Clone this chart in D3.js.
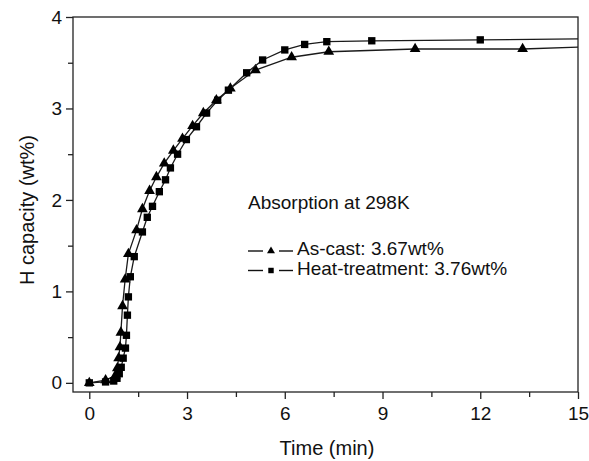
<!DOCTYPE html>
<html>
<head>
<meta charset="utf-8">
<script src="https://cdn.jsdelivr.net/npm/d3@7"></script>
<style>
  body { margin: 0; background: #fff; }
  svg text { font-family: "Liberation Sans", Arial, sans-serif; fill: #111; }
</style>
</head>
<body>
<svg id="chart" width="589" height="461"></svg>
<script>
// As-cast sample (triangles)
const asCastTime = [0, 0.5, 0.8, 0.86, 0.9, 0.94, 0.97, 1.02, 1.1, 1.2, 1.45, 1.63, 1.85, 2.06, 2.3, 2.58, 2.86, 3.17, 3.5, 3.9, 4.33, 5.1, 6.21, 7.35, 10.0, 13.3, 15];
const asCastH    = [0, 0.03, 0.08, 0.16, 0.27, 0.39, 0.55, 0.84, 1.13, 1.41, 1.67, 1.9, 2.1, 2.25, 2.4, 2.54, 2.67, 2.81, 2.95, 3.09, 3.22, 3.42, 3.56, 3.62, 3.65, 3.65, 3.67];

// Heat-treated sample (squares)
const heatTime = [0, 0.5, 0.75, 0.85, 0.92, 0.98, 1.04, 1.11, 1.14, 1.17, 1.2, 1.26, 1.38, 1.63, 1.78, 1.94, 2.15, 2.34, 2.49, 2.71, 2.98, 3.29, 3.6, 3.94, 4.27, 4.83, 5.32, 6.0, 6.61, 7.29, 8.67, 12.0, 15];
const heatH    = [0, 0.01, 0.02, 0.05, 0.1, 0.17, 0.27, 0.38, 0.52, 0.74, 0.94, 1.16, 1.38, 1.65, 1.81, 1.93, 2.09, 2.22, 2.35, 2.5, 2.66, 2.8, 2.95, 3.09, 3.2, 3.39, 3.53, 3.64, 3.7, 3.73, 3.74, 3.75, 3.76];

const xTicks = [0, 3, 6, 9, 12, 15];
const yTicks = [0, 1, 2, 3, 4];
const legendLabels = ['As-cast: 3.67wt%', 'Heat-treatment: 3.76wt%'];
const noteText = 'Absorption at 298K';

const svg = d3.select('#chart');
const mLeft = 73, mRight = 578, mTop = 17, mBottom = 392;

const x = d3.scaleLinear().domain([-0.5, 15]).range([mLeft, mRight]);
const y = d3.scaleLinear().domain([-0.1, 4]).range([mBottom, mTop]);

// frame
svg.append('rect')
  .attr('x', mLeft).attr('y', mTop)
  .attr('width', mRight - mLeft).attr('height', mBottom - mTop)
  .attr('fill', 'none').attr('stroke', '#222').attr('stroke-width', 1.3);

// x axis
const xAxis = svg.append('g')
  .attr('transform', `translate(0,${mBottom})`)
  .call(d3.axisBottom(x).tickValues(d3.range(0, 15.01, 1.5)).tickSize(6).tickFormat(d => xTicks.includes(d) ? d : ''));
xAxis.select('.domain').remove();
xAxis.selectAll('line').attr('stroke', '#222').attr('stroke-width', 1.3)
  .attr('y2', d => xTicks.includes(d) ? 7 : 5);
xAxis.selectAll('text').attr('font-size', 19).attr('y', 15);

// y axis
const yAxis = svg.append('g')
  .attr('transform', `translate(${mLeft},0)`)
  .call(d3.axisLeft(y).tickValues(d3.range(0, 4.01, 0.5)).tickSize(6).tickFormat(d => yTicks.includes(d) ? d : ''));
yAxis.select('.domain').remove();
yAxis.selectAll('line').attr('stroke', '#222').attr('stroke-width', 1.3)
  .attr('x2', d => yTicks.includes(d) ? -7 : -5);
yAxis.selectAll('text').attr('font-size', 19).attr('x', -11);

// axis titles
svg.append('text')
  .attr('x', 327).attr('y', 455)
  .attr('text-anchor', 'middle').attr('font-size', 20)
  .text('Time (min)');
svg.append('text')
  .attr('transform', `translate(34,210) rotate(-90)`)
  .attr('text-anchor', 'middle').attr('font-size', 20)
  .text('H capacity (wt%)');

const series = [
  { t: asCastTime, h: asCastH, symbol: d3.symbolTriangle, size: 50 },
  { t: heatTime, h: heatH, symbol: d3.symbolSquare, size: 54 }
];

const line = d3.line().x(d => x(d[0])).y(d => y(d[1]));

series.forEach(s => {
  const pts = s.t.map((t, i) => [t, s.h[i]]);
  svg.append('path')
    .datum(pts)
    .attr('d', line)
    .attr('fill', 'none')
    .attr('stroke', '#1a1a1a')
    .attr('stroke-width', 1.3);
  svg.append('g').selectAll('path')
    .data(pts.filter(p => p[0] < 15))
    .enter().append('path')
    .attr('d', d3.symbol().type(s.symbol).size(s.size))
    .attr('transform', d => `translate(${x(d[0])},${y(d[1])})`)
    .attr('fill', '#000');
});

// note + legend
svg.append('text')
  .attr('x', 248).attr('y', 209)
  .attr('font-size', 19)
  .text(noteText);

const legend = svg.append('g');
series.forEach((s, i) => {
  const ly = 251 + i * 19.5;
  const g = legend.append('g');
  g.append('line').attr('x1', 248).attr('x2', 263).attr('y1', ly).attr('y2', ly).attr('stroke', '#111').attr('stroke-width', 1.4);
  g.append('line').attr('x1', 279).attr('x2', 293).attr('y1', ly).attr('y2', ly).attr('stroke', '#111').attr('stroke-width', 1.4);
  g.append('path')
    .attr('d', d3.symbol().type(s.symbol).size(s.size * 0.55))
    .attr('transform', `translate(271,${ly})`)
    .attr('fill', '#000');
  g.append('text')
    .attr('x', 297).attr('y', ly + 4)
    .attr('font-size', 19)
    .text(legendLabels[i]);
});
</script>
</body>
</html>
